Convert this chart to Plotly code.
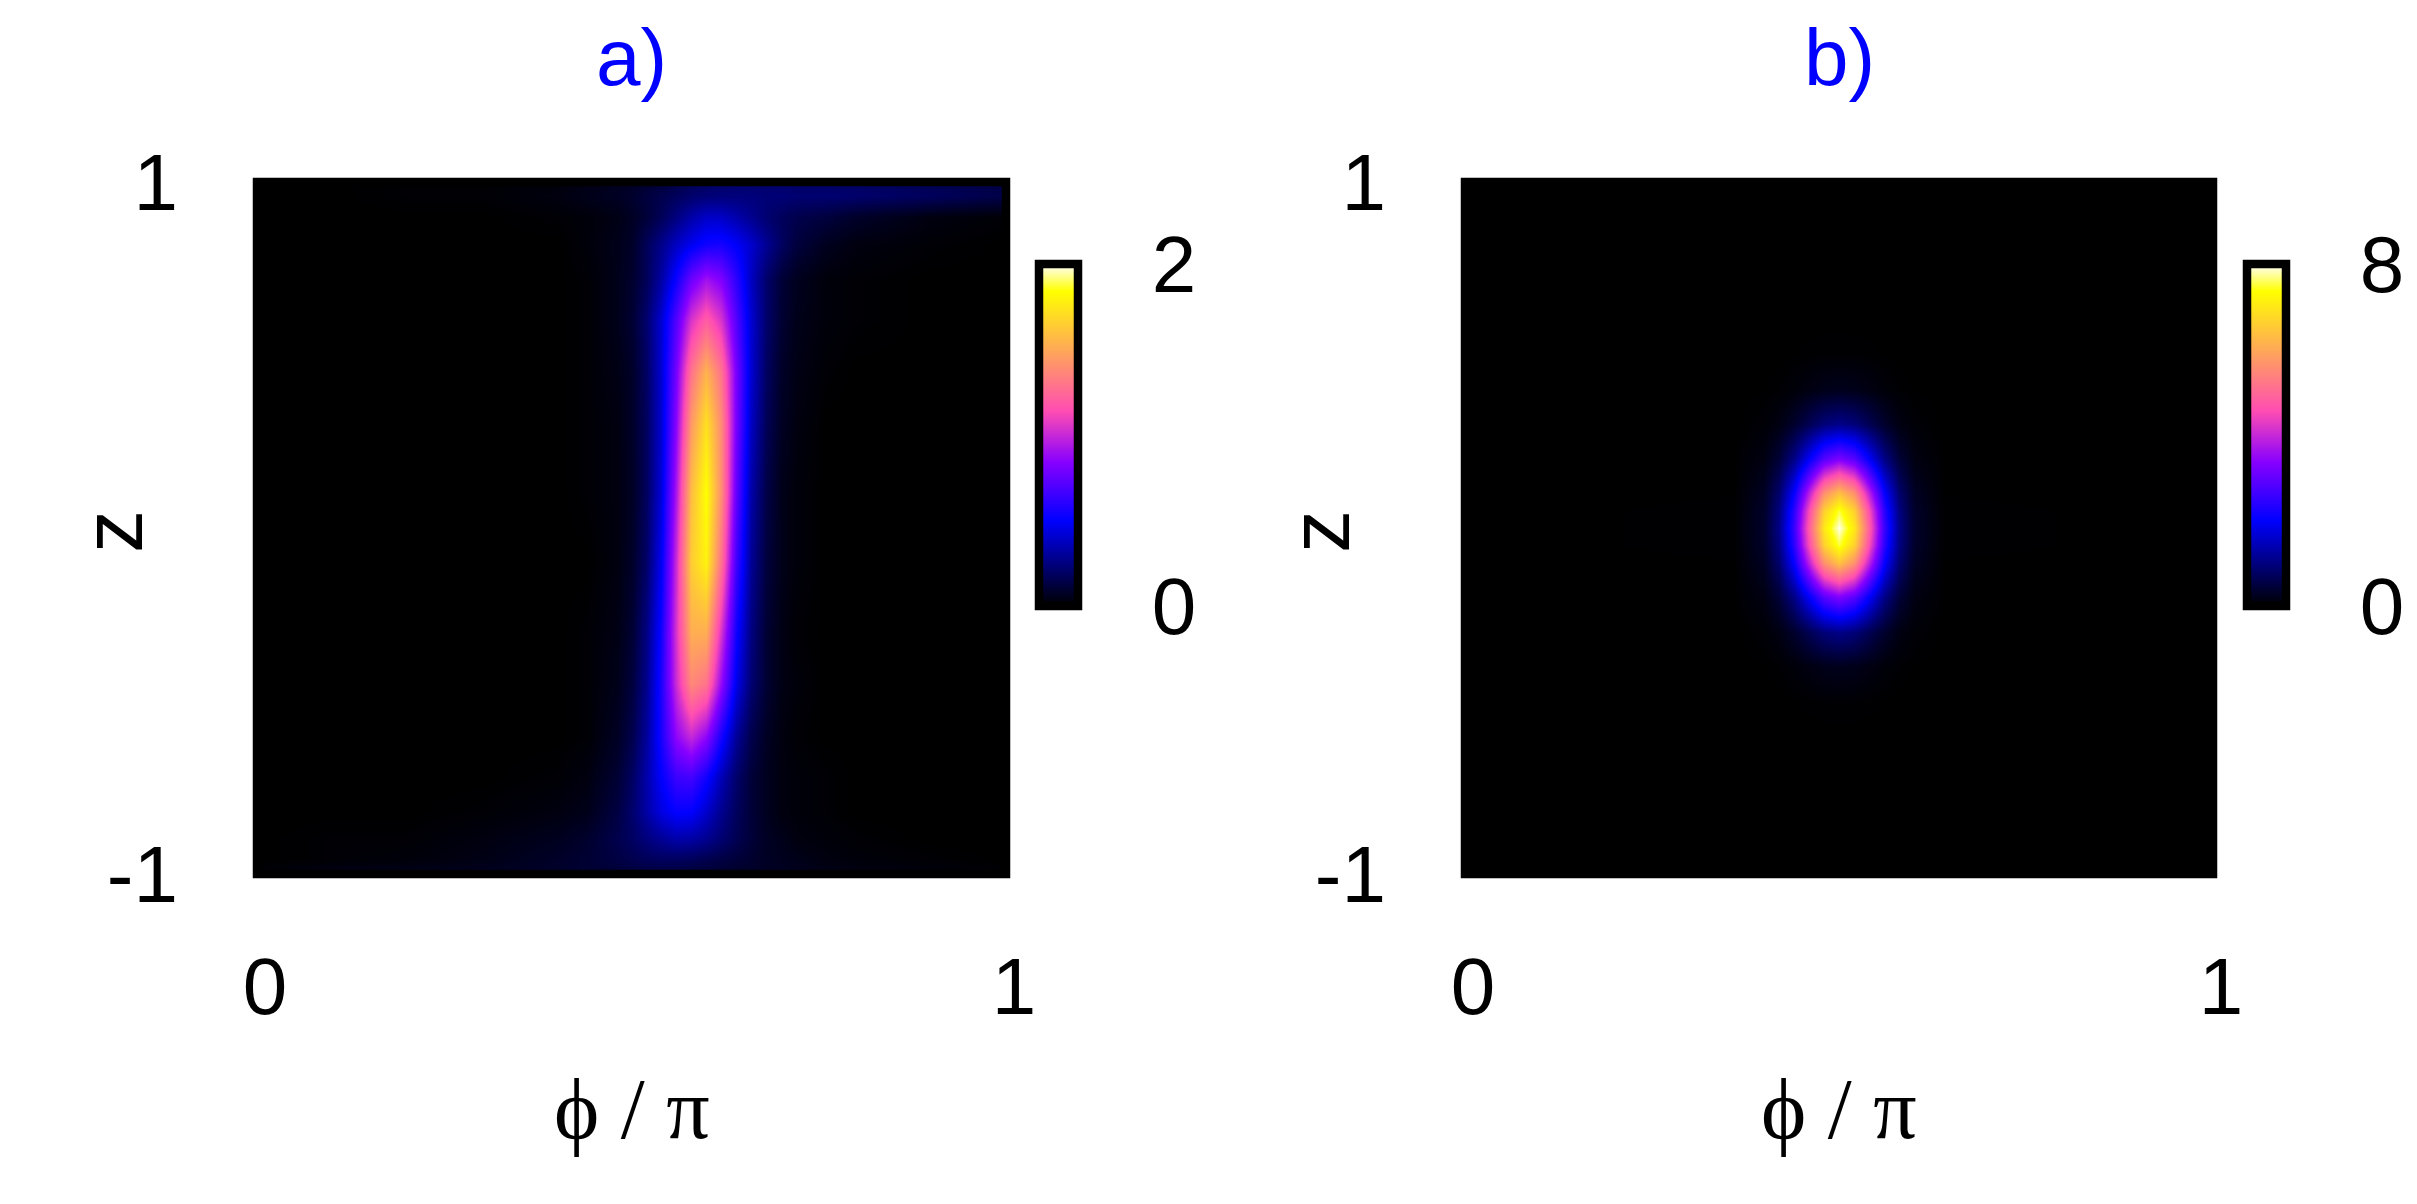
import plotly.graph_objects as go

W, H = 2417, 1204
OFF = 8  # the page body margin offsets the figure by this many pixels

# ---------------- data: panel a) ----------------
phi_a = [0, 0.1, 0.2, 0.3, 0.4, 0.44, 0.48, 0.5, 0.52, 0.54, 0.56, 0.58, 0.6,
         0.62, 0.64, 0.66, 0.68, 0.7, 0.72, 0.76, 0.8, 0.9, 1.0]
z_a = [-1.0, -0.96, -0.9, -0.82, -0.72, -0.6, -0.45, -0.3, -0.1, 0.1, 0.3,
       0.45, 0.6, 0.72, 0.82, 0.9, 0.96, 1.0]
dens_a = [
    [0.02, 0.05, 0.06, 0.07, 0.09, 0.1, 0.1, 0.11, 0.11, 0.11, 0.11, 0.1, 0.1, 0.09, 0.08, 0.08, 0.07, 0.07, 0.06, 0.05, 0.04, 0.03, 0.01],
    [0, 0.01, 0.02, 0.04, 0.08, 0.1, 0.13, 0.15, 0.17, 0.18, 0.18, 0.17, 0.15, 0.13, 0.11, 0.09, 0.07, 0.06, 0.05, 0.03, 0.02, 0.01, 0],
    [0, 0.01, 0.01, 0.03, 0.06, 0.09, 0.15, 0.19, 0.24, 0.29, 0.33, 0.32, 0.28, 0.22, 0.16, 0.11, 0.07, 0.05, 0.03, 0.02, 0.01, 0, 0],
    [0, 0, 0, 0.01, 0.03, 0.05, 0.13, 0.21, 0.32, 0.44, 0.51, 0.5, 0.4, 0.28, 0.18, 0.11, 0.06, 0.03, 0.02, 0.01, 0, 0, 0],
    [0, 0, 0, 0, 0.01, 0.03, 0.1, 0.19, 0.33, 0.5, 0.65, 0.67, 0.54, 0.36, 0.21, 0.11, 0.06, 0.03, 0.02, 0.01, 0, 0, 0],
    [0, 0, 0, 0, 0, 0.01, 0.07, 0.15, 0.3, 0.56, 0.86, 1.0, 0.86, 0.56, 0.3, 0.15, 0.07, 0.03, 0.01, 0, 0, 0, 0],
    [0, 0, 0, 0, 0, 0.01, 0.05, 0.12, 0.27, 0.57, 1.01, 1.37, 1.29, 0.87, 0.46, 0.22, 0.1, 0.04, 0.02, 0, 0, 0, 0],
    [0, 0, 0, 0, 0, 0.01, 0.04, 0.1, 0.25, 0.54, 1.04, 1.52, 1.52, 1.04, 0.54, 0.25, 0.1, 0.04, 0.01, 0, 0, 0, 0],
    [0, 0, 0, 0, 0, 0, 0.03, 0.08, 0.2, 0.48, 1.01, 1.64, 1.79, 1.28, 0.66, 0.29, 0.12, 0.05, 0.02, 0, 0, 0, 0],
    [0, 0, 0, 0, 0, 0.01, 0.03, 0.07, 0.18, 0.43, 0.93, 1.58, 1.84, 1.39, 0.75, 0.33, 0.14, 0.05, 0.02, 0, 0, 0, 0],
    [0, 0, 0, 0, 0, 0.01, 0.03, 0.08, 0.18, 0.41, 0.85, 1.44, 1.72, 1.38, 0.8, 0.38, 0.17, 0.07, 0.03, 0, 0, 0, 0],
    [0, 0, 0, 0, 0, 0.01, 0.04, 0.08, 0.19, 0.41, 0.8, 1.29, 1.54, 1.29, 0.8, 0.41, 0.19, 0.08, 0.04, 0.01, 0, 0, 0],
    [0, 0, 0, 0, 0, 0.01, 0.05, 0.1, 0.21, 0.41, 0.71, 1.04, 1.2, 1.04, 0.71, 0.41, 0.21, 0.1, 0.05, 0.02, 0.01, 0, 0],
    [0, 0, 0, 0, 0, 0.01, 0.05, 0.09, 0.17, 0.32, 0.53, 0.77, 0.9, 0.82, 0.61, 0.38, 0.21, 0.11, 0.06, 0.02, 0.01, 0, 0],
    [0, 0, 0, 0, 0, 0.02, 0.05, 0.08, 0.17, 0.27, 0.38, 0.47, 0.54, 0.55, 0.49, 0.4, 0.29, 0.19, 0.12, 0.06, 0.03, 0.01, 0],
    [0, 0, 0, 0, 0.01, 0.02, 0.04, 0.07, 0.11, 0.17, 0.25, 0.33, 0.39, 0.39, 0.34, 0.28, 0.22, 0.18, 0.15, 0.12, 0.08, 0.03, 0.01],
    [0, 0, 0.01, 0.01, 0.03, 0.05, 0.07, 0.09, 0.12, 0.15, 0.18, 0.21, 0.23, 0.24, 0.24, 0.24, 0.23, 0.23, 0.22, 0.22, 0.21, 0.18, 0.14],
    [0, 0, 0.01, 0.01, 0.02, 0.04, 0.06, 0.07, 0.09, 0.11, 0.14, 0.17, 0.19, 0.2, 0.21, 0.21, 0.21, 0.21, 0.2, 0.2, 0.19, 0.16, 0.13],
]

# ---------------- data: panel b) ----------------
phi_b = [0, 0.36, 0.40, 0.42, 0.44, 0.46, 0.48, 0.50, 0.52, 0.54, 0.56, 0.58, 0.60, 0.64, 1.0]
z_b = [-1.0, -0.6, -0.5, -0.4, -0.3, -0.2, -0.1, -0.05, 0.0, 0.05, 0.1, 0.2, 0.3, 0.4, 0.5, 0.6, 1.0]
dens_b = [
    [0, 0, 0, 0, 0, 0, 0, 0, 0, 0, 0, 0, 0, 0, 0],
    [0, 0, 0, 0, 0, 0, 0, 0, 0, 0, 0, 0, 0, 0, 0],
    [0, 0, 0, 0, 0.01, 0.02, 0.03, 0.03, 0.03, 0.02, 0.01, 0, 0, 0, 0],
    [0, 0, 0.01, 0.03, 0.07, 0.14, 0.2, 0.23, 0.2, 0.14, 0.07, 0.03, 0.01, 0, 0],
    [0, 0, 0.05, 0.14, 0.35, 0.65, 0.95, 1.07, 0.95, 0.65, 0.35, 0.14, 0.05, 0, 0],
    [0, 0.01, 0.14, 0.44, 1.06, 1.99, 2.89, 3.27, 2.89, 1.99, 1.06, 0.44, 0.14, 0.01, 0],
    [0, 0.01, 0.28, 0.86, 2.07, 3.87, 5.62, 6.37, 5.62, 3.87, 2.07, 0.86, 0.28, 0.01, 0],
    [0, 0.02, 0.33, 1.01, 2.44, 4.57, 6.64, 7.52, 6.64, 4.57, 2.44, 1.01, 0.33, 0.02, 0],
    [0, 0.02, 0.35, 1.07, 2.58, 4.83, 7.02, 7.95, 7.02, 4.83, 2.58, 1.07, 0.35, 0.02, 0],
    [0, 0.02, 0.33, 1.01, 2.44, 4.57, 6.64, 7.52, 6.64, 4.57, 2.44, 1.01, 0.33, 0.02, 0],
    [0, 0.01, 0.28, 0.86, 2.07, 3.87, 5.62, 6.37, 5.62, 3.87, 2.07, 0.86, 0.28, 0.01, 0],
    [0, 0.01, 0.14, 0.44, 1.06, 1.99, 2.89, 3.27, 2.89, 1.99, 1.06, 0.44, 0.14, 0.01, 0],
    [0, 0, 0.05, 0.14, 0.35, 0.65, 0.95, 1.07, 0.95, 0.65, 0.35, 0.14, 0.05, 0, 0],
    [0, 0, 0.01, 0.03, 0.07, 0.14, 0.2, 0.23, 0.2, 0.14, 0.07, 0.03, 0.01, 0, 0],
    [0, 0, 0, 0, 0.01, 0.02, 0.03, 0.03, 0.03, 0.02, 0.01, 0, 0, 0, 0],
    [0, 0, 0, 0, 0, 0, 0, 0, 0, 0, 0, 0, 0, 0, 0],
    [0, 0, 0, 0, 0, 0, 0, 0, 0, 0, 0, 0, 0, 0, 0],
]

panel_titles = ["a)", "b)"]
cb_max = [2, 8]
x_ticks = [0, 1]
x_ticktext = ["0", "1"]
y_ticks = [-1, 1]
y_ticktext = ["-1", "1"]

# gnuplot2-like palette (rgbformulae 30,31,32)
palette = [
    [0.0, "rgb(0,0,0)"],
    [0.25, "rgb(0,0,255)"],
    [0.42, "rgb(135,0,255)"],
    [0.57, "rgb(255,77,178)"],
    [0.92, "rgb(255,255,0)"],
    [1.0, "rgb(255,255,255)"],
]

SANS = "Liberation Sans, Arial, sans-serif"
SERIF = "Liberation Serif, Times New Roman, serif"

# layout geometry (page pixels)
xdom_px = [(257, 1006), (1465, 2213)]
ydom_px = (182, 874)
cb_left_px = [1039, 2247]
cb_top_px, cb_bot_px = 264, 606
FW, FH = W - OFF, H - OFF


def px_x(p):
    return (p - OFF) / FW


def px_y(p):
    return 1 - (p - OFF) / FH


fig = go.Figure()
datasets = [(phi_a, z_a, dens_a), (phi_b, z_b, dens_b)]
for i, (px, pz, dd) in enumerate(datasets):
    ax = "" if i == 0 else str(i + 1)
    fig.add_trace(go.Heatmap(
        x=px, y=pz, z=dd, zmin=0, zmax=cb_max[i],
        colorscale=palette, zsmooth="best",
        xaxis="x" + ax, yaxis="y" + ax,
        colorbar=dict(
            x=px_x(cb_left_px[i]), xanchor="left", xpad=0,
            y=px_y((cb_top_px + cb_bot_px) / 2), yanchor="middle", ypad=0,
            len=cb_bot_px - cb_top_px, lenmode="pixels",
            thickness=39, outlinewidth=8.5, outlinecolor="black",
            tickvals=[0, cb_max[i]], ticktext=["0", str(cb_max[i])],
            ticks="outside", ticklen=54, tickcolor="rgba(0,0,0,0)",
            tickfont=dict(family=SANS, size=80, color="black"),
        ),
    ))

layout = dict(
    width=FW, height=FH,
    margin=dict(l=0, r=0, t=0, b=0, autoexpand=False),
    paper_bgcolor="white", plot_bgcolor="black",
    showlegend=False,
)
for i in range(2):
    ax = "" if i == 0 else str(i + 1)
    layout["xaxis" + ax] = dict(
        domain=[px_x(xdom_px[i][0]), px_x(xdom_px[i][1])],
        range=[0, 1], anchor="y" + ax,
        tickvals=x_ticks, ticktext=x_ticktext,
        ticks="outside", ticklen=43, tickcolor="rgba(0,0,0,0)",
        ticklabelshift=8,
        tickfont=dict(family=SANS, size=80, color="black"),
        showgrid=False, zeroline=False, showline=False, automargin=False,
    )
    layout["yaxis" + ax] = dict(
        domain=[px_y(ydom_px[1]), px_y(ydom_px[0])],
        range=[-1, 1], anchor="x" + ax,
        tickvals=y_ticks, ticktext=y_ticktext,
        ticks="outside", ticklen=62, tickcolor="rgba(0,0,0,0)",
        tickfont=dict(family=SANS, size=80, color="black"),
        showgrid=False, zeroline=False, showline=False, automargin=False,
    )
fig.update_layout(**layout)

shapes = []
annotations = []
for i in range(2):
    ax = "" if i == 0 else str(i + 1)
    shapes.append(dict(type="rect", xref="x" + ax + " domain", yref="y" + ax + " domain",
                       x0=0, x1=1, y0=0, y1=1, line=dict(color="black", width=8.5),
                       layer="above"))
    cx = (xdom_px[i][0] + xdom_px[i][1]) / 2
    annotations.append(dict(text=panel_titles[i], xref="paper", yref="paper",
                            x=px_x(cx), y=px_y(57), xanchor="center", yanchor="middle",
                            showarrow=False, font=dict(family=SANS, size=80, color="blue")))
    annotations.append(dict(text="ϕ / π", xref="paper", yref="paper",
                            x=px_x(cx), y=px_y(1109), xanchor="center", yanchor="middle",
                            showarrow=False, font=dict(family=SERIF, size=86, color="black")))
    zx = 112 if i == 0 else 1319
    annotations.append(dict(text="z", xref="paper", yref="paper", textangle=-90,
                            x=px_x(zx), y=px_y(532), xanchor="center", yanchor="middle",
                            showarrow=False, font=dict(family=SANS, size=86, color="black")))
fig.update_layout(shapes=shapes, annotations=annotations)

fig.write_html("out.html")
